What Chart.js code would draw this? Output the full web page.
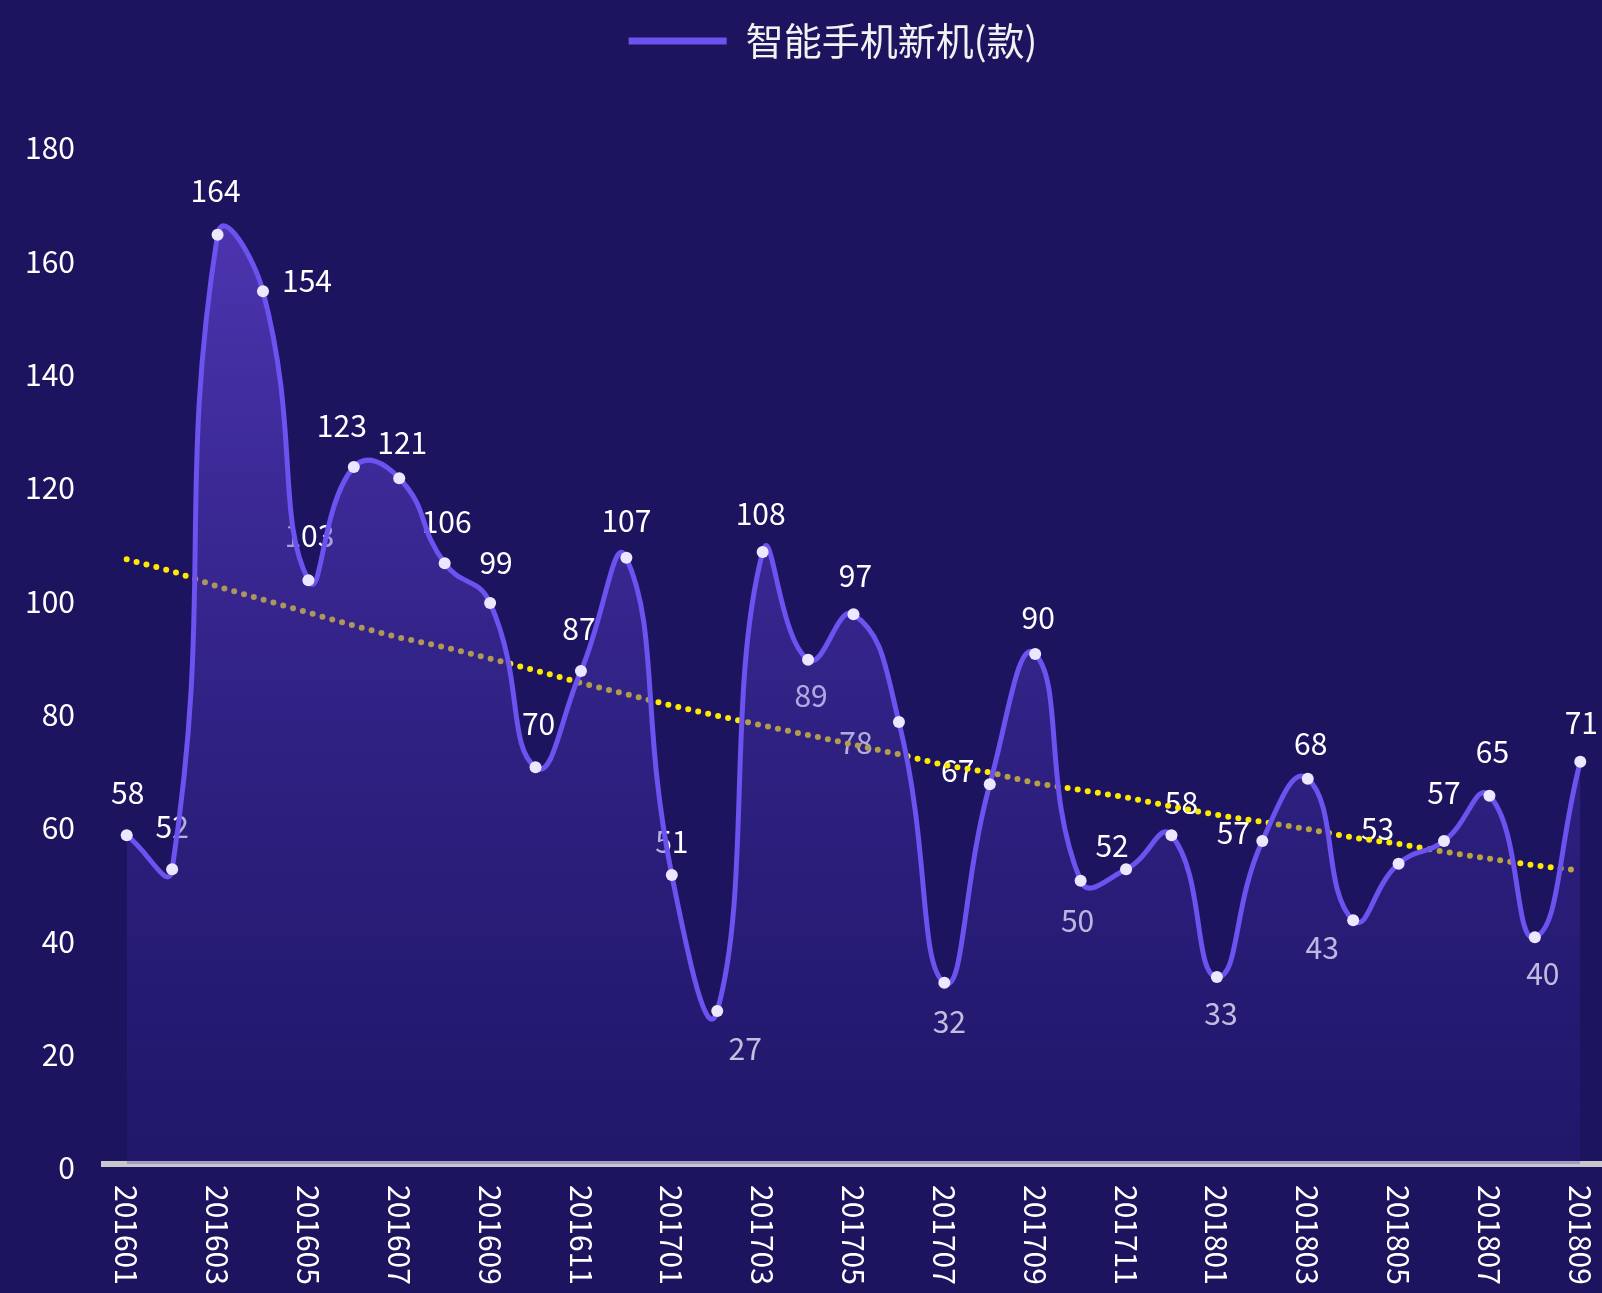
<!DOCTYPE html>
<html>
<head>
<meta charset="utf-8">
<title>智能手机新机</title>
<script src="https://cdn.jsdelivr.net/npm/chart.js"></script>
<style>
    html, body { margin: 0; padding: 0; background: #1d1460; overflow: hidden; }
    canvas { display: block; }
</style>
</head>
<body>
<canvas id="myChart" width="1609" height="1293"></canvas>
<script>
    // data
    const months = [
        '201601','201602','201603','201604','201605','201606','201607','201608','201609','201610','201611','201612',
        '201701','201702','201703','201704','201705','201706','201707','201708','201709','201710','201711','201712',
        '201801','201802','201803','201804','201805','201806','201807','201808','201809'
    ];
    const phones = [58, 52, 164, 154, 103, 123, 121, 106, 99, 70, 87, 107,
                    51, 27, 108, 89, 97, 78, 32, 67, 90, 50, 52, 58,
                    33, 57, 68, 43, 53, 57, 65, 40, 71];
    // dotted trend line
    const trend = [106.7, 104.6, 101.9, 99.6, 97.3, 95.0, 92.9, 91.2, 89.2, 87.1, 84.9, 82.9,
                   80.9, 79.1, 77.4, 75.7, 74.0, 72.3, 70.4, 69.1, 67.2, 66.0, 64.7, 63.1,
                   61.6, 60.4, 59.1, 57.6, 56.5, 55.1, 53.9, 52.7, 51.8];
    const yMin = 0, yMax = 180, yStep = 20;

    // where each value label sits relative to its point (px)
    const labelOffsets = [
        [1,-43],[0,-43],[-2,-44],[44,-11],[1,-45],[-12,-41],[3,-36],[2,-42],[6,-40],[3,-44],[-2,-42],[0,-37],
        [0,-33],[28,38],[-2,-38],[3,36],[2,-39],[-43,21],[5,39],[-32,-14],[3,-36],[-3,40],[-14,-24],[10,-33],
        [4,37],[-29,-8],[3,-35],[-31,27],[-21,-35],[0,-48],[3,-44],[8,36],[1,-39]
    ];

    const FONT = '"Noto Sans CJK SC", "Noto Sans", sans-serif';
    const LINE = '#6c52ef';

    function areaFill(c) {
        const area = c.chart.chartArea;
        if (!area) return 'transparent';
        const g = c.chart.ctx.createLinearGradient(0, area.top, 0, area.bottom);
        g.addColorStop(0, 'rgba(112, 76, 232, 0.65)');
        g.addColorStop(1, 'rgba(45, 35, 140, 0.25)');
        return g;
    }

    // labels go under the datasets so the area tints the ones inside it
    const valueLabels = {
        id: 'valueLabels',
        beforeDatasetsDraw(chart) {
            const ctx = chart.ctx;
            const meta = chart.getDatasetMeta(0);
            ctx.save();
            ctx.font = '30px ' + FONT;
            ctx.fillStyle = '#ffffff';
            ctx.textAlign = 'center';
            ctx.textBaseline = 'middle';
            meta.data.forEach((pt, i) => {
                const off = labelOffsets[i];
                ctx.fillText(phones[i], pt.x + off[0], pt.y + off[1]);
            });
            ctx.restore();
        }
    };

    // x labels read top to bottom, every second month
    const monthLabels = {
        id: 'monthLabels',
        afterDraw(chart) {
            const ctx = chart.ctx;
            const x = chart.scales.x;
            ctx.save();
            ctx.font = '30px ' + FONT;
            ctx.fillStyle = '#ffffff';
            ctx.textAlign = 'left';
            ctx.textBaseline = 'middle';
            months.forEach((m, i) => {
                if (i % 2) return;
                ctx.save();
                ctx.translate(x.getPixelForValue(i), chart.chartArea.bottom + 21);
                ctx.rotate(Math.PI / 2);
                ctx.fillText(m, 0, 0);
                ctx.restore();
            });
            ctx.restore();
        }
    };

    // push the plot down below the legend, and nudge the legend right
    const legendSpace = {
        id: 'legendSpace',
        beforeInit(chart) {
            const fit = chart.legend.fit;
            chart.legend.fit = function () {
                fit.call(this);
                this.height = 144;
            };
        },
        afterLayout(chart) {
            chart.legend.left += 32;
        }
    };

    new Chart(document.getElementById('myChart').getContext('2d'), {
        type: 'line',
        data: {
            labels: months,
            datasets: [
                {
                    label: '智能手机新机(款)',
                    data: phones,
                    order: 0,
                    borderColor: LINE,
                    borderWidth: 5,
                    tension: 0.5,
                    fill: 'origin',
                    backgroundColor: areaFill,
                    pointRadius: 6,
                    pointBackgroundColor: '#ede6ff',
                    pointBorderWidth: 0
                },
                {
                    label: 'trend',
                    data: trend,
                    order: 1,
                    borderColor: '#ffe900',
                    borderWidth: 6,
                    borderDash: [0, 10.2],
                    borderCapStyle: 'round',
                    pointRadius: 0,
                    fill: false,
                    tension: 0
                }
            ]
        },
        options: {
            responsive: false,
            animation: false,
            layout: { padding: { left: 25, right: 0, top: 0, bottom: 129 } },
            plugins: {
                tooltip: { enabled: false },
                legend: {
                    position: 'top',
                    labels: {
                        color: '#f2f2f2',
                        font: { size: 38, family: FONT },
                        boxWidth: 98,
                        boxHeight: 7,
                        padding: 22,
                        useBorderRadius: true,
                        borderRadius: 3.5,
                        generateLabels: () => [{
                            text: '智能手机新机(款)',
                            fillStyle: LINE,
                            strokeStyle: LINE,
                            fontColor: '#f2f2f2',
                            lineWidth: 0,
                            hidden: false,
                            datasetIndex: 0
                        }]
                    }
                }
            },
            scales: {
                x: {
                    type: 'category',
                    offset: true,
                    grid: { display: false, drawTicks: false },
                    ticks: { display: false },
                    border: { display: true, color: '#c8c7cf', width: 6 }
                },
                y: {
                    min: yMin,
                    max: yMax,
                    grid: { display: false, drawTicks: false },
                    border: { display: false },
                    ticks: {
                        stepSize: yStep,
                        padding: 29,
                        labelOffset: 4,
                        color: '#ffffff',
                        font: { size: 30, family: FONT }
                    },
                    afterFit(scale) { scale.width = 79; }
                }
            }
        },
        plugins: [legendSpace, valueLabels, monthLabels]
    });
</script>
</body>
</html>
